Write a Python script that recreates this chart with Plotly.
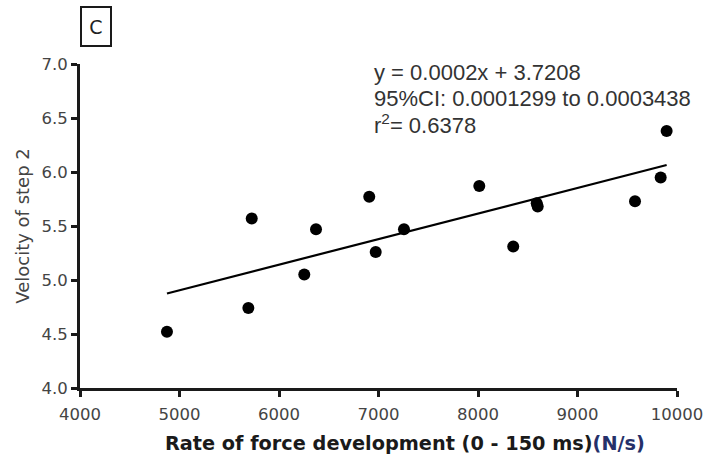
import plotly.graph_objects as go

# Rate of force development (N/s) vs. velocity of step 2
rfd = [4874, 5692, 5726, 6254, 6372, 6907, 6972, 7256, 8013, 8354, 8590, 8600, 9578, 9836, 9896]
velocity = [4.52, 4.74, 5.57, 5.05, 5.47, 5.77, 5.26, 5.47, 5.87, 5.31, 5.71, 5.68, 5.73, 5.95, 6.38]

# Regression summary
intercept = 3.7208
ci_low, ci_high = 0.0001299, 0.0003438
slope = (ci_low + ci_high) / 2
r_squared = 0.6378

x_ticks = [4000, 5000, 6000, 7000, 8000, 9000, 10000]
y_ticks = [4.0, 4.5, 5.0, 5.5, 6.0, 6.5, 7.0]

fit_x = [min(rfd), max(rfd)]
fit_y = [intercept + slope * v for v in fit_x]

fig = go.Figure()
fig.add_trace(go.Scatter(
    x=fit_x, y=fit_y, mode="lines",
    line=dict(color="black", width=2.2), hoverinfo="skip", showlegend=False,
))
fig.add_trace(go.Scatter(
    x=rfd, y=velocity, mode="markers",
    marker=dict(color="black", size=12), showlegend=False,
))

tick_font = dict(family="DejaVu Sans", size=16.5, color="#444444")
axis_common = dict(
    showline=True, linecolor="#1a1a1a", linewidth=3,
    ticks="outside", ticklen=6, tickwidth=2.5, tickcolor="#1a1a1a",
    showgrid=False, zeroline=False, tickfont=tick_font, automargin=False,
)

fig.update_xaxes(
    range=[4000, 10000], tickvals=x_ticks, tickformat="d", ticklabelstandoff=3,
    **axis_common,
)
fig.update_yaxes(
    range=[4.0, 7.0], tickvals=y_ticks, tickformat=".1f",
    title=dict(
        text="Velocity of step 2",
        font=dict(family="DejaVu Sans", size=18, color="#444444"),
        standoff=8,
    ),
    **axis_common,
)

# X-axis title
fig.add_annotation(
    xref="paper", yref="paper", x=(405 - 80) / 597, y=(388 - 444) / 324,
    text="Rate of force development (0 - 150 ms)<span style='color:#25306a'>(N/s)</span>",
    showarrow=False, xanchor="center", yanchor="middle",
    font=dict(family="DejaVu Sans", size=19.3, color="#1a1a1a", weight="bold"),
)

stats_lines = [
    f"y = 0.0002x + {intercept:.4f}",
    f"95%CI: {ci_low:.7f} to {ci_high:.7f}",
    f"r<sup>2</sup>= {r_squared:.4f}",
]
for i, txt in enumerate(stats_lines):
    fig.add_annotation(
        xref="paper", yref="paper", x=(372 - 80) / 597, y=1.0 + (64 - 72 - 26 * i) / 324,
        text=txt, showarrow=False, xanchor="left", yanchor="middle",
        font=dict(family="Liberation Sans", size=22, color="#333333"),
    )

# Panel letter in a box
fig.add_annotation(
    xref="paper", yref="paper", x=(95.5 - 80) / 597, y=1.0 + (64 - 27) / 324,
    text="C", showarrow=False, xanchor="center", yanchor="middle",
    font=dict(family="DejaVu Sans", size=19, color="#222222"),
    bordercolor="#1a1a1a", borderwidth=2, borderpad=3, width=22, height=31,
)

fig.update_layout(
    width=706, height=459,
    margin=dict(l=80, r=29, t=64, b=71),
    paper_bgcolor="white", plot_bgcolor="white",
)

fig.write_html("out.html")
